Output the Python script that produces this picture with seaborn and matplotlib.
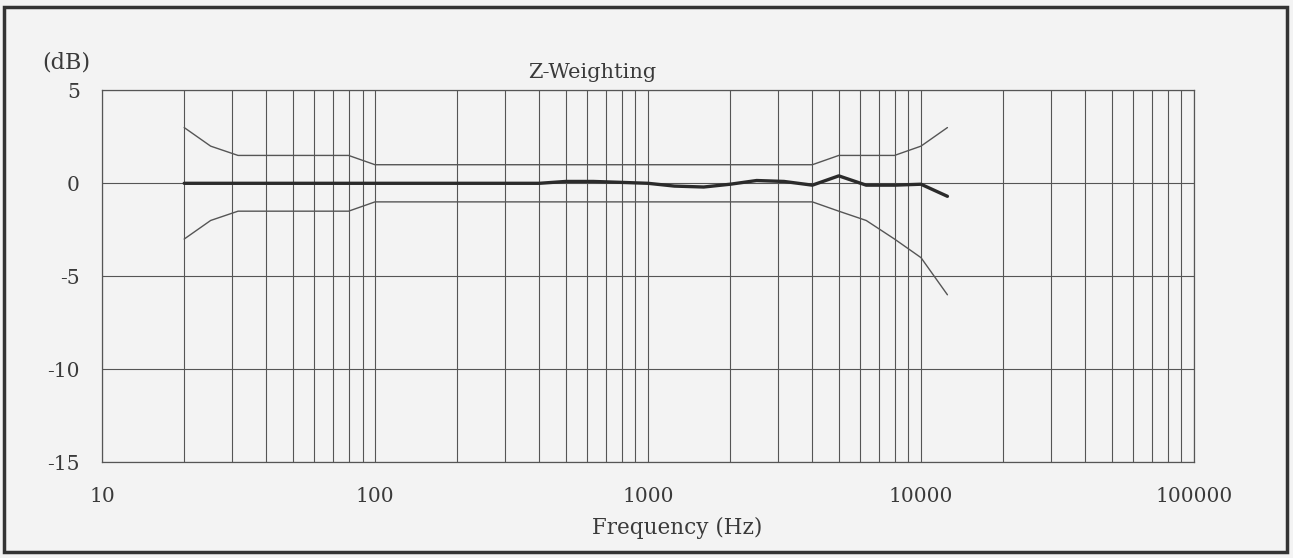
import matplotlib
matplotlib.use("Agg")
import matplotlib.pyplot as plt
from matplotlib.ticker import LogLocator, FixedLocator, FixedFormatter, NullFormatter
from matplotlib.patches import Rectangle
import seaborn as sns
import pandas as pd

# 1/3 octave band centre frequencies (Hz)
freqs = [20, 25, 31.5, 40, 50, 63, 80, 100, 125, 160, 200, 250, 315, 400, 500,
         630, 800, 1000, 1250, 1600, 2000, 2500, 3150, 4000, 5000, 6300, 8000,
         10000, 12500]

# tolerance limits (dB)
upper_limit = [3.0, 2.0, 1.5, 1.5, 1.5, 1.5, 1.5, 1.0, 1.0, 1.0, 1.0, 1.0, 1.0,
               1.0, 1.0, 1.0, 1.0, 1.0, 1.0, 1.0, 1.0, 1.0, 1.0, 1.0, 1.5, 1.5,
               1.5, 2.0, 3.0]
lower_limit = [-3.0, -2.0, -1.5, -1.5, -1.5, -1.5, -1.5, -1.0, -1.0, -1.0, -1.0,
               -1.0, -1.0, -1.0, -1.0, -1.0, -1.0, -1.0, -1.0, -1.0, -1.0, -1.0,
               -1.0, -1.0, -1.5, -2.0, -3.0, -4.0, -6.0]

# measured Z-weighting response (dB)
measured = [0.0, 0.0, 0.0, 0.0, 0.0, 0.0, 0.0, 0.0, 0.0, 0.0, 0.0, 0.0, 0.0,
            0.0, 0.1, 0.1, 0.05, 0.0, -0.15, -0.2, -0.05, 0.15, 0.1, -0.1, 0.4,
            -0.1, -0.1, -0.05, -0.7]

y_ticks = [-15, -10, -5, 0, 5]
y_labels = ["-15", "-10", "-5", "0", "5"]
x_ticks = [10, 100, 1000, 10000, 100000]
x_labels = ["10", "100", "1000", "10000", "100000"]

df = pd.DataFrame({"freq": freqs, "upper": upper_limit,
                   "lower": lower_limit, "measured": measured})

sns.set_theme(style="white")
plt.rcParams["font.family"] = ["DejaVu Serif"]
bg = "#f3f3f3"
ink = "#3a3a3a"

fig = plt.figure(figsize=(12.93, 5.58), dpi=100, facecolor=bg)
ax = fig.add_axes([0.0789, 0.172, 0.8445, 0.666])
ax.set_facecolor(bg)
ax.set_xscale("log")

sns.lineplot(data=df, x="freq", y="upper", ax=ax, color="#555555", linewidth=1.0)
sns.lineplot(data=df, x="freq", y="lower", ax=ax, color="#555555", linewidth=1.0)
sns.lineplot(data=df, x="freq", y="measured", ax=ax, color="#2b2b2b", linewidth=2.4)

ax.set_xlim(10, 100000)
ax.set_ylim(-15, 5)

ax.xaxis.set_major_locator(FixedLocator(x_ticks))
ax.xaxis.set_major_formatter(FixedFormatter(x_labels))
ax.xaxis.set_minor_locator(LogLocator(base=10, subs=range(2, 10), numticks=20))
ax.xaxis.set_minor_formatter(NullFormatter())
ax.yaxis.set_major_locator(FixedLocator(y_ticks))
ax.yaxis.set_major_formatter(FixedFormatter(y_labels))

ax.grid(which="both", axis="x", color="#555555", linewidth=0.8)
ax.grid(which="major", axis="y", color="#555555", linewidth=0.8)
ax.tick_params(axis="both", which="both", length=0, labelsize=14.5, colors=ink)
ax.tick_params(axis="y", pad=16)
ax.tick_params(axis="x", pad=18)

for s in ax.spines.values():
    s.set_visible(True)
    s.set_color("#555555")
    s.set_linewidth(0.9)

ax.set_xlabel("")
ax.set_ylabel("")

fig.text(592 / 1293, 1 - 72 / 558, "Z-Weighting", ha="center", va="center",
         fontsize=15, color=ink)
fig.text(677 / 1293, 1 - 528 / 558, "Frequency (Hz)", ha="center", va="center",
         fontsize=15.5, color=ink)
fig.text(66 / 1293, 1 - 62 / 558, "(dB)", ha="center", va="center",
         fontsize=16, color=ink)

# outer frame of the scanned sheet
fig.patches.append(Rectangle((0.003, 0.01), 0.992, 0.978, transform=fig.transFigure,
                             fill=False, edgecolor="#333333", linewidth=2.5))

fig.savefig("out.png", dpi=100, facecolor=bg)
